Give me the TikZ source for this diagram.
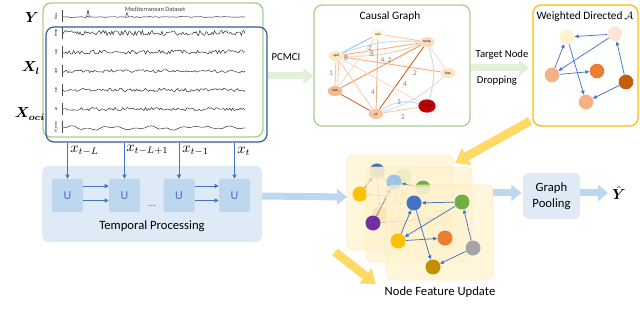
\documentclass[tikz,border=0pt]{standalone}
\usepackage{amsmath,bm}
\usepackage{fontspec}
\setmainfont{Carlito}
\usetikzlibrary{arrows.meta,shapes.geometric,patterns}
\definecolor{gframe}{HTML}{A9D18E}
\definecolor{bframe}{HTML}{2F5C9E}
\definecolor{tpfill}{HTML}{DEEBF7}
\definecolor{ufill}{HTML}{BDD7EE}
\definecolor{ublue}{HTML}{4472C4}
\definecolor{garrow}{HTML}{E2F0D9}
\definecolor{oframe}{HTML}{FFC000}
\definecolor{oarrow}{HTML}{FFD966}
\definecolor{cream}{HTML}{FFF2CC}
\definecolor{peachA}{HTML}{F8CBAD}
\definecolor{peachB}{HTML}{F4B183}
\definecolor{rust}{HTML}{C55A11}
\definecolor{orng}{HTML}{ED7D31}
\definecolor{edgeblue}{HTML}{9DC3E6}
\definecolor{lblgray}{HTML}{808080}
\definecolor{ggreen}{HTML}{70AD47}
\definecolor{lgreen}{HTML}{C5E0B4}
\definecolor{ggray}{HTML}{A5A5A5}
\definecolor{gold}{HTML}{BF9000}
\definecolor{yel}{HTML}{FFC000}
\definecolor{purp}{HTML}{7030A0}
\definecolor{lblue}{HTML}{9DC3E6}
\definecolor{pinkish}{HTML}{FBE5D6}
\definecolor{tanc}{HTML}{E8C77A}
\begin{document}
\begin{tikzpicture}[x=0.75pt,y=-0.75pt,
  every node/.style={inner sep=0pt},
  ts/.style={line width=0.35pt, black!85},
  tsaxis/.style={line width=0.3pt, black!70},
  tslab/.style={rotate=90, font=\fontsize{2.6}{3}\selectfont},
  ubox/.style={fill=ufill, rounded corners=1.5pt, minimum width=23.25pt, minimum height=24.75pt, text=ublue, font=\fontsize{9}{10}\selectfont},
  uarrow/.style={ublue, line width=0.7pt, -{Triangle[length=3pt,width=3pt]}},
  cgnode/.style={ellipse, minimum width=11pt, minimum height=7.5pt, font=\fontsize{2.6}{3}\selectfont},
  cgedge/.style={line width=0.7pt},
  cgl/.style={text=lblgray, font=\fontsize{5.5}{6}\selectfont},
  wnode/.style={circle, minimum size=11pt},
  barr/.style={ublue, line width=0.55pt, -{Triangle[length=3pt,width=2.6pt]}},
  fnode/.style={circle, minimum size=11.25pt},
  garr/.style={black!30, line width=0.5pt, -{Triangle[length=2.6pt,width=2.4pt]}},
  bigblue/.style={ufill, line width=5.25pt, -{Triangle[length=7.5pt,width=12pt]}},
  biggreen/.style={garrow, line width=5.25pt, -{Triangle[length=7.5pt,width=12pt]}},
  bigorange/.style={oarrow, line width=6.5pt, -{Triangle[length=10pt,width=14pt]}},
  layer/.style={fill=cream, fill opacity=0.7, draw=oarrow, draw opacity=0.35, line width=0.5pt, rounded corners=4pt},
  title/.style={font=\fontsize{8.5}{10}\selectfont},
  bigtext/.style={font=\fontsize{9.5}{12}\selectfont},
  mlab/.style={font=\fontsize{10.5}{12}\selectfont},
]
\useasboundingbox (0,0) rectangle (640,321);

% ---------------- time series panel ----------------
\node[draw=gframe, line width=1.1pt, rounded corners=6pt, minimum width=165pt, minimum height=100.5pt] (gfr) at (153,70) {};
\node[draw=bframe, line width=0.9pt, rounded corners=6pt, minimum width=165.75pt, minimum height=86.25pt] (bfr) at (156.5,84.5) {};

\node[mlab] (lY) at (32,17) {$\bm{Y}$};
\node[mlab] (lXl) at (31,68) {$\bm{X_l}$};
\node[mlab] (lXo) at (30,114) {$\bm{X_{oci}}$};

\node[font=\fontsize{4.8}{5}\selectfont, text=black!75] (tstitle) at (155,9) {Mediterranean Dataset};

\pgfmathsetseed{42}
\draw[tsaxis] (62,10) -- (62,22);
\node[tslab] (labfires) at (56,16) {fires};
\draw[ts] plot[domain=63:245, samples=90, variable=\x] (\x,{17+0.4*rand});
\draw[ts] (86.5,17) -- (88,10) -- (89.5,17);
\draw[ts] (125.5,17) -- (127,12.5) -- (128.5,17);
\foreach \r/\a/\lab/\n in {33/2.6/temp/150,52/2.2/rain/120,71/1.6/vpd/110,90/1.8/nao/120,109/1.6/air/120}{
  \draw[tsaxis] (62,\r-6) -- (62,\r+6);
  \node[tslab] (lab\lab) at (56,\r) {\lab};
  \draw[ts] plot[domain=63:245, samples=\n, variable=\x] (\x,{\r+\a*rand});
}
\draw[tsaxis] (62,121) -- (62,133);
\node[tslab] (labnino) at (56,127) {el\_nino};
\draw[ts] plot[smooth, domain=63:245, samples=50, variable=\x] (\x,{128+1.3*sin(9*\x)+1.0*sin(23*\x+40)+0.4*rand-4*exp(-((\x-207)/4)^2)});

% ---------------- temporal processing ----------------
\node[fill=tpfill, rounded corners=5pt, minimum width=165pt, minimum height=57pt] (tp) at (152,204) {};
\node[ubox] (u1) at (67.5,195.5) {U};
\node[ubox] (u2) at (124.5,195.5) {U};
\node[ubox] (u3) at (179,195.5) {U};
\node[ubox] (u4) at (234.5,195.5) {U};
\node[text=ublue, font=\fontsize{8}{9}\selectfont] (dots) at (152,206) {...};
\node[bigtext] (tptext) at (152,226) {Temporal Processing};

\foreach \u in {u1,u2,u3,u4}{
  \draw[uarrow] (bfr.south -| \u) -- (\u.north);
}
\draw[uarrow] ([yshift=7.1pt]u1.east) -- ([yshift=7.1pt]u2.west);
\draw[uarrow] ([yshift=-3.75pt]u1.east) -- ([yshift=-3.75pt]u2.west);
\draw[uarrow] ([yshift=7.1pt]u3.east) -- ([yshift=7.1pt]u4.west);
\draw[uarrow] ([yshift=-3.75pt]u3.east) -- ([yshift=-3.75pt]u4.west);

\node[anchor=west, mlab] (x1) at (70,151) {$x_{t-L}$};
\node[anchor=west, mlab] (x2) at (126,150) {$x_{t-L+1}$};
\node[anchor=west, mlab] (x3) at (182,151) {$x_{t-1}$};
\node[anchor=west, mlab] (x4) at (237,151) {$x_{t}$};

% ---------------- causal graph ----------------
\node[draw=gframe, line width=1pt, rounded corners=6pt, minimum width=117pt, minimum height=90.75pt] (cg) at (392,65.5) {};
\node[title] (cgt) at (390,16) {Causal Graph};
\node[font=\fontsize{8}{9}\selectfont] (pcmci) at (286,57) {PCMCI};
\draw[biggreen] (bfr.east |- 0,76) -- (cg.west |- 0,76);

\node[cgnode, fill=cream!60] (rain) at (378,34) {rain};
\node[cgnode, fill=peachA!60!cream] (temp) at (427,42) {temp};
\node[cgnode, fill=peachA!30!cream] (vpd) at (336,56) {vpd};
\node[cgnode, fill=peachA!30!cream] (fires) at (448,73) {fires};
\node[cgnode, fill=peachB!90] (nao) at (335,91) {nao};
\node[cgnode, fill=peachB!75] (air) at (376,114) {air};
\node[cgnode, fill=red!75!black, minimum width=13pt, minimum height=10pt] (elnino) at (427,106) {el\_nino};

\draw[cgedge, edgeblue] (vpd) -- (rain);
\draw[cgedge, peachB] (vpd) -- (temp);
\draw[cgedge, peachA] (vpd) to[bend right=10] (temp);
\draw[cgedge, edgeblue!60] (vpd) to[bend left=12] (temp);
\draw[cgedge, peachB] (vpd) -- (fires);
\draw[cgedge, peachA] (rain) -- (temp);
\draw[cgedge, peachA!70] (temp) -- (fires);
\draw[cgedge, peachA] (nao) -- (vpd);
\draw[cgedge, peachA] ([xshift=2pt]nao.north) -- ([xshift=2pt]vpd.south);
\draw[cgedge, peachA!70] (nao) -- (rain);
\draw[cgedge, orng!80] (nao) -- (temp);
\draw[cgedge, rust!85] (nao) -- (air);
\draw[cgedge, peachB] (air) -- (rain);
\draw[cgedge, orng!85!black] (air) -- (temp);
\draw[cgedge, peachA] (air) -- (vpd);
\draw[cgedge, peachA] (air) -- (elnino);
\draw[cgedge, peachA!70] (vpd) -- (elnino);
\draw[cgedge, edgeblue!60] (air) to[bend left=25] (elnino);
\draw[cgedge, edgeblue!60] (temp) to[bend left=18] (elnino);
\draw[cgedge, edgeblue!50] (fires) to[bend left=12] (air);

\node[cgl] (c1) at (370,48) {2};
\node[cgl] (c2) at (372,54) {8};
\node[cgl] (c3) at (346,58) {8};
\node[cgl] (c4) at (386,61) {4, 2};
\node[cgl] (c5) at (331,73) {1};
\node[cgl] (c6) at (415,73) {2};
\node[cgl] (c7) at (405,84) {4};
\node[cgl] (c8) at (373,92) {4};
\node[cgl] (c9) at (399,102) {3};
\node[cgl] (c10) at (403,117) {2};

% ---------------- target node dropping ----------------
\node[font=\fontsize{8}{9}\selectfont] (tnd1) at (502,55) {Target Node};
\node[font=\fontsize{8}{9}\selectfont] (tnd2) at (497,81) {Dropping};
\draw[biggreen] (cg.east |- 0,68) -- (529,68) coordinate (wdin);

% ---------------- weighted directed graph ----------------
\node[draw=oframe, line width=1pt, rounded corners=6pt, minimum width=78.75pt, minimum height=90.75pt] (wd) at (585.5,65.5) {};
\node[title] (wdt) at (585,17) {Weighted Directed$\,\mathcal{A}$};
\node[wnode, fill=cream] (w1) at (567,37) {};
\node[wnode, fill=pinkish] (w2) at (615,34) {};
\node[wnode, fill=peachB] (w3) at (552,75) {};
\node[wnode, fill=orng] (w4) at (597,71) {};
\node[wnode, fill=rust] (w5) at (626,82) {};
\node[wnode, fill=peachB] (w6) at (586,102) {};
\draw[barr] (w2) -- (w1);
\draw[barr] (w3) -- (w1);
\draw[barr] (w1) -- (w6);
\draw[barr] (w2) -- (w3);
\draw[barr] (w3) -- (w4);
\draw[barr] (w5) -- (w2);
\draw[barr] (w5) -- (w6);

% ---------------- orange arrows ----------------
\coordinate (oa1s) at (530,121);
\coordinate (oa1e) at (455,163);
\draw[bigorange] (oa1s) -- (oa1e);
\coordinate (oa2s) at (335,252);
\coordinate (oa2e) at (376,284);
\draw[bigorange] (oa2s) -- (oa2e);

% ---------------- stacked graphs ----------------
\node[layer, minimum width=79.5pt, minimum height=71.25pt] (sq1) at (400,202.5) {};
\node[fnode, fill=ggray!70, path picture={\fill[ublue] (path picture bounding box.north west) rectangle ([yshift=-3pt]path picture bounding box.north east);}] (b1) at (377,171) {};
\node[fnode, fill=lgreen, postaction={pattern=dots, pattern color=ggreen!50}] (b2) at (404,176) {};
\node[fnode, fill=yel] (b3) at (360,194) {};
\node[fnode, fill=tanc] (b4) at (380,214) {};
\node[fnode, fill=peachA] (b5) at (400,197) {};
\node[fnode, fill=peachA] (b6) at (420,221) {};
\node[fnode, fill=peachA] (b7) at (443,218) {};
\node[fnode, fill=peachA] (b8) at (398,228) {};
\draw[barr] (b3) -- (b1);
\draw[garr] (b5) -- (b3);
\draw[garr] (b1) -- (b4);
\draw[garr] (b1) -- (b5);
\draw[garr] (b2) -- (b7);
\draw[garr] (b2) -- (b8);
\draw[garr] (b7) -- (b6);

\node[layer, minimum width=79.5pt, minimum height=71.25pt] (sq2) at (419,214.5) {};
\node[fnode, fill=lblue] (c1n) at (394,182) {};
\node[fnode, fill=lgreen, postaction={pattern=dots, pattern color=ggreen!50}, path picture={\fill[ggreen] (path picture bounding box.north west) rectangle ([yshift=-5pt]path picture bounding box.north east);}] (c2n) at (423,188) {};
\node[fnode, fill=purp] (c3n) at (373,223) {};
\draw[barr] (c3n) -- (c1n);
\draw[barr] (c2n) -- (c1n);
\draw[garr] (c1n) -- (c3n);
\draw[garr] (c3n) -- (b7);

\node[layer, minimum width=80.25pt, minimum height=71.25pt] (sq3) at (439.5,232.5) {};
\node[fnode, fill=ublue] (f1) at (414,203) {};
\node[fnode, fill=ggreen] (f2) at (462,202) {};
\node[fnode, fill=yel] (f3) at (398,241) {};
\node[fnode, fill=orng] (f4) at (445,238) {};
\node[fnode, fill=ggray] (f5) at (473,248) {};
\node[fnode, fill=gold] (f6) at (433,267) {};
\draw[barr] (f2) -- (f1);
\draw[barr] (f3) -- (f1);
\draw[barr] (f1) -- (f6);
\draw[barr] (f2) -- (f3);
\draw[barr] (f3) -- (f4);
\draw[barr] (f5) -- (f2);
\draw[barr] (f5) -- (f6);

\node[bigtext] (nfu) at (440,292) {Node Feature Update};

% ---------------- arrows into / out of the stack ----------------
\coordinate (stackin) at (347,197);
\draw[bigblue] ([yshift=6pt]tp.east) -- (stackin);

\node[fill=tpfill, rounded corners=4pt, minimum width=42.75pt, minimum height=34.5pt, align=center, bigtext] (gp) at (551.5,196) {Graph\\Pooling};
\draw[bigblue, shorten >=1pt] (sq3.east |- 0,193) -- (gp.west |- 0,193);
\node[mlab] (yhat) at (619,193) {$\bm{\hat{Y}}$};
\draw[bigblue] (gp.east |- 0,193) -- ([xshift=-3pt]yhat.west);
\end{tikzpicture}
\end{document}
